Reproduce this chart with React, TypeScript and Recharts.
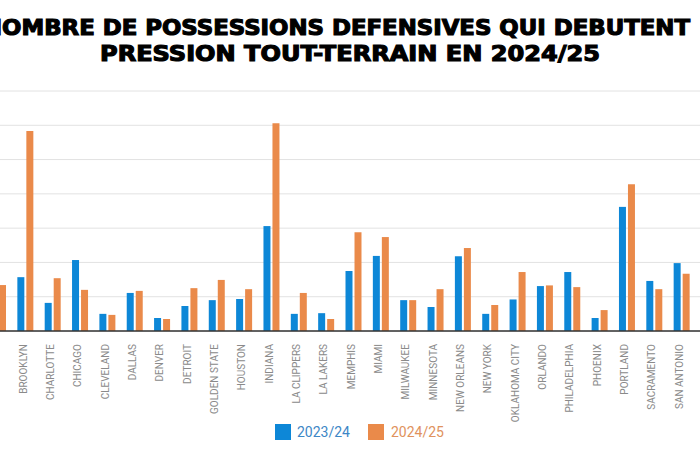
import { BarChart, Bar, XAxis, YAxis, CartesianGrid } from "recharts";

// équipes visibles (Boston est coupé à gauche)
const teams = [
  "BOSTON",
  "BROOKLYN",
  "CHARLOTTE",
  "CHICAGO",
  "CLEVELAND",
  "DALLAS",
  "DENVER",
  "DETROIT",
  "GOLDEN STATE",
  "HOUSTON",
  "INDIANA",
  "LA CLIPPERS",
  "LA LAKERS",
  "MEMPHIS",
  "MIAMI",
  "MILWAUKEE",
  "MINNESOTA",
  "NEW ORLEANS",
  "NEW YORK",
  "OKLAHOMA CITY",
  "ORLANDO",
  "PHILADELPHIA",
  "PHOENIX",
  "PORTLAND",
  "SACRAMENTO",
  "SAN ANTONIO",
];

const season2324 = [
  null, 157, 82, 207, 50, 111, 38, 73, 90, 93, 306, 50, 52, 175, 219, 90, 70,
  218, 50, 92, 131, 172, 38, 362, 146, 198,
];

const season2425 = [
  134, 583, 154, 120, 47, 117, 35, 125, 149, 122, 606, 111, 35, 288, 274, 90,
  122, 242, 76, 172, 133, 128, 61, 428, 122, 167,
];

const yTicks = [0, 100, 200, 300, 400, 500, 600, 700];

const seasons = ["2023/24", "2024/25"];
const BLUE = "#0d87d7";
const ORANGE = "#ea8a4a";

const data = teams.map((team, i) => ({
  team,
  s2324: season2324[i],
  s2425: season2425[i],
}));

const TeamTick = (props: any) => {
  const { x, y, payload } = props;
  const tx = x - 2;
  return (
    <text
      x={tx}
      y={y}
      transform={`rotate(-90 ${tx} ${y})`}
      textAnchor="end"
      dy="0.35em"
      fill="#8a8a8a"
      fontSize={10}
      fontFamily="Roboto"
    >
      {payload.value}
    </text>
  );
};

const titleStyle = {
  fontFamily: "DejaVu Sans",
  fontWeight: "bold" as const,
  fontSize: 20.5,
  fill: "#000",
  stroke: "#000",
  strokeWidth: 1.1,
};

export default function App() {
  return (
    <div
      style={{
        position: "absolute",
        left: 0,
        top: 0,
        width: 700,
        height: 450,
        overflow: "hidden",
        background: "#fff",
      }}
    >
      <svg
        width={700}
        height={80}
        style={{ position: "absolute", left: 0, top: 0 }}
      >
        <text
          x={-17}
          y={35}
          textLength={707}
          lengthAdjust="spacingAndGlyphs"
          style={titleStyle}
        >
          NOMBRE DE POSSESSIONS DEFENSIVES QUI DEBUTENT
        </text>
        <text
          x={100}
          y={61}
          textLength={500}
          lengthAdjust="spacingAndGlyphs"
          style={titleStyle}
        >
          PRESSION TOUT-TERRAIN EN 2024/25
        </text>
      </svg>

      <div style={{ position: "absolute", left: -16, top: 0 }}>
        <BarChart
          width={718}
          height={450}
          data={data}
          margin={{ top: 91, right: 0, left: 0, bottom: 39 }}
          barSize={7}
          barGap={2}
        >
          <CartesianGrid vertical={false} stroke="#e2e2e2" />
          <XAxis
            dataKey="team"
            height={80}
            interval={0}
            tickLine={false}
            tickMargin={7}
            axisLine={{ stroke: "#333", strokeWidth: 1.5 }}
            padding={{ left: 0, right: 7 }}
            tick={<TeamTick />}
          />
          <YAxis hide domain={[0, 700]} ticks={yTicks} />
          <Bar
            dataKey="s2324"
            name={seasons[0]}
            fill={BLUE}
            isAnimationActive={false}
          />
          <Bar
            dataKey="s2425"
            name={seasons[1]}
            fill={ORANGE}
            isAnimationActive={false}
          />
        </BarChart>
      </div>

      <div
        style={{
          position: "absolute",
          left: 275,
          top: 424,
          display: "flex",
          alignItems: "center",
          fontFamily: "Roboto",
          fontSize: 14,
        }}
      >
        <span
          style={{ width: 16, height: 16, background: BLUE, display: "inline-block" }}
        />
        <span style={{ color: "#3d87c6", marginLeft: 6, width: 71 }}>
          {seasons[0]}
        </span>
        <span
          style={{ width: 16, height: 16, background: ORANGE, display: "inline-block" }}
        />
        <span style={{ color: "#e0925d", marginLeft: 7 }}>{seasons[1]}</span>
      </div>
    </div>
  );
}
